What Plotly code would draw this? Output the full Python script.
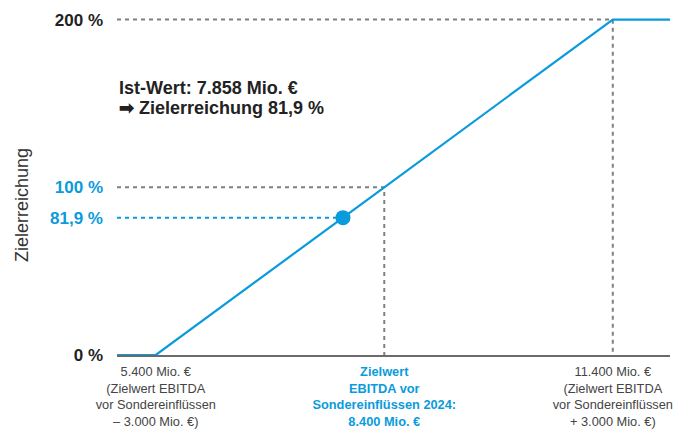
import plotly.graph_objects as go

# ---- data ----
thresholds = [5400, 8400, 11400]          # Mio. € (EBITDA vor Sondereinflüssen)
achievement = [0, 100, 200]               # Zielerreichung in %
ist_wert = 7858                           # Ist-Wert Mio. €
ist_achievement = 81.9                    # %
x_tick_labels = [
    "5.400 Mio. €<br>(Zielwert EBITDA<br>vor Sondereinflüssen<br>– 3.000 Mio. €)",
    "<b>Zielwert<br>EBITDA vor<br>Sondereinflüssen 2024:<br>8.400 Mio. €</b>",
    "11.400 Mio. €<br>(Zielwert EBITDA<br>vor Sondereinflüssen<br>+ 3.000 Mio. €)",
]
y_tick_vals = [0, 81.9, 100, 200]
y_tick_labels = ["0 %", "81,9 %", "100 %", "200 %"]
note_lines = ["Ist-Wert: 7.858 Mio. €", "➡ Zielerreichung 81,9 %"]

BLUE = "#0a9bdc"
GRAY_DASH = "#808080"
TEXT = "#222222"
XMIN, XMAX = 4891, 12151
YMIN, YMAX = 0, 205.7

fig = go.Figure()

# dashed guide lines (gray)
fig.add_trace(go.Scatter(x=[XMIN, thresholds[2], thresholds[2]], y=[achievement[2], achievement[2], 0],
                         mode="lines", line=dict(color=GRAY_DASH, width=2, dash="4px,4px"),
                         hoverinfo="skip", showlegend=False, cliponaxis=False))
fig.add_trace(go.Scatter(x=[XMIN, thresholds[1], thresholds[1]], y=[achievement[1], achievement[1], 0],
                         mode="lines", line=dict(color=GRAY_DASH, width=2, dash="4px,4px"),
                         hoverinfo="skip", showlegend=False, cliponaxis=False))
# blue dashed guide to the actual value
fig.add_trace(go.Scatter(x=[XMIN, ist_wert], y=[ist_achievement, ist_achievement],
                         mode="lines", line=dict(color=BLUE, width=2, dash="4px,4px"),
                         hoverinfo="skip", showlegend=False))

# main curve
fig.add_trace(go.Scatter(x=[XMIN] + thresholds + [XMAX],
                         y=[achievement[0]] + achievement + [achievement[-1]],
                         mode="lines", line=dict(color=BLUE, width=2.2),
                         hoverinfo="skip", showlegend=False, cliponaxis=False))
# actual point
fig.add_trace(go.Scatter(x=[ist_wert], y=[ist_achievement], mode="markers",
                         marker=dict(color=BLUE, size=15), hoverinfo="skip", showlegend=False))

y_ticktext = [
    f"<span style='color:{BLUE}'>{t}</span>" if v in (81.9, 100) else t
    for v, t in zip(y_tick_vals, y_tick_labels)
]
x_ticktext = [
    f"<span style='color:{BLUE}'>{t}</span>" if i == 1 else t
    for i, t in enumerate(x_tick_labels)
]

fig.update_layout(
    width=688, height=430,
    margin=dict(l=117, r=18, t=10, b=75),
    paper_bgcolor="white", plot_bgcolor="white",
    font=dict(family="Liberation Sans, Arial, sans-serif", color=TEXT),
    xaxis=dict(range=[XMIN, XMAX], tickvals=thresholds, ticktext=x_ticktext,
               showgrid=False, zeroline=False, showline=True, linecolor="#6b6b6b", linewidth=1.5,
               ticks="", tickfont=dict(size=12.8, color="#444444"), ticklabelstandoff=4,
               automargin=False, fixedrange=True),
    yaxis=dict(range=[YMIN, YMAX], tickvals=y_tick_vals, ticktext=y_ticktext,
               showgrid=False, zeroline=False, showline=False, ticks="",
               tickfont=dict(size=17, color=TEXT, weight="bold"), ticklabelstandoff=13,
               automargin=False, fixedrange=True),
    annotations=[
        dict(text=note_lines[0], xref="x", yref="y", x=XMIN, y=159,
             xanchor="left", yanchor="middle", showarrow=False,
             font=dict(size=18, color=TEXT, weight="bold")),
        dict(text=note_lines[1], xref="x", yref="y", x=XMIN, y=147.4,
             xanchor="left", yanchor="middle", showarrow=False,
             font=dict(size=18, color=TEXT, weight="bold")),
        dict(text="Zielerreichung", xref="paper", yref="paper", x=-0.1718, y=0.4348,
             textangle=-90, showarrow=False, xanchor="center", yanchor="middle",
             font=dict(size=18, color="#333333")),
    ],
)

fig.write_html("out.html")
